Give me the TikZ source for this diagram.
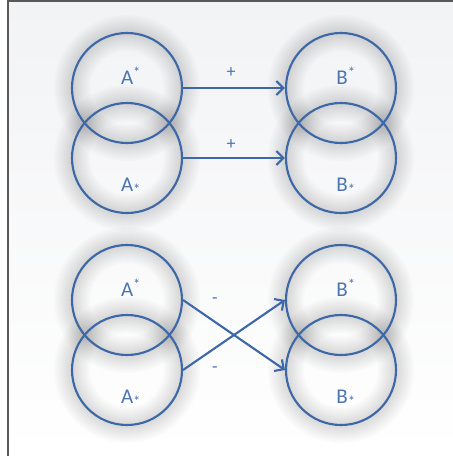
\documentclass[tikz,border=0pt]{standalone}
\usepackage{fontspec}
\setmainfont{Carlito}
\usetikzlibrary{arrows.meta}
\definecolor{setblue}{HTML}{3D68A8}
\definecolor{labblue}{HTML}{4E74B2}
\definecolor{panel}{HTML}{F2F3F5}

\begin{document}
\begin{tikzpicture}[x=1pt, y=-1pt,
    set/.style={circle, draw=setblue, line width=2.1pt, minimum size=110pt, inner sep=0pt},
    lab/.style={text=labblue, font=\fontsize{21}{24}\selectfont},
    sign/.style={text=labblue, font=\fontsize{18}{20}\selectfont},
    link/.style={draw=setblue, line width=2.1pt, -{Straight Barb[length=7pt, width=14pt]}}]
  \useasboundingbox (0,0) rectangle (453,456);
  % panel with a dark edge on top and left
  \shade[top color=panel, bottom color=white] (8,1) rectangle (453,456);
  \draw[gray!70!black, line width=1.5pt] (8,456) -- (8,1) -- (453,1);
  % soft glow round every set
  \foreach \cx/\cy in {127/88, 127/158, 341/88, 341/158, 127/300, 127/370, 341/300, 341/370} {
    \foreach \w in {4, 8, ..., 36} {
      \draw[black, opacity=0.016, line width=\w pt] (\cx,\cy) circle (55pt);
    }
  }
  % upper pair of pairs
  \node[set] (au1) at (127,88) {};
  \node[set] (al1) at (127,158) {};
  \node[set] (bu1) at (341,88) {};
  \node[set] (bl1) at (341,158) {};
  \node[lab] (au1t) at (131,76) {A\textsuperscript{*}};
  \node[lab] (al1t) at (131,186) {A\textsubscript{*}};
  \node[lab] (bu1t) at (346,76) {B\textsuperscript{*}};
  \node[lab] (bl1t) at (346,186) {B\textsubscript{*}};
  \draw[link] (au1.east) -- (bu1.west);
  \draw[link] (al1.east) -- (bl1.west);
  \node[sign] (p1) at (231,73) {+};
  \node[sign] (p2) at (231,145) {+};
  % lower pair of pairs, crossed
  \node[set] (au2) at (127,300) {};
  \node[set] (al2) at (127,370) {};
  \node[set] (bu2) at (341,300) {};
  \node[set] (bl2) at (341,370) {};
  \node[lab] (au2t) at (131,288) {A\textsuperscript{*}};
  \node[lab] (al2t) at (131,398) {A\textsubscript{*}};
  \node[lab] (bu2t) at (346,288) {B\textsuperscript{*}};
  \node[lab] (bl2t) at (346,398) {B\textsubscript{*}};
  \draw[link] (au2.east) -- (bl2.west);
  \draw[link] (al2.east) -- (bu2.west);
  \node[sign] (m1) at (215,301) {-};
  \node[sign] (m2) at (215,370) {-};
\end{tikzpicture}
\end{document}
